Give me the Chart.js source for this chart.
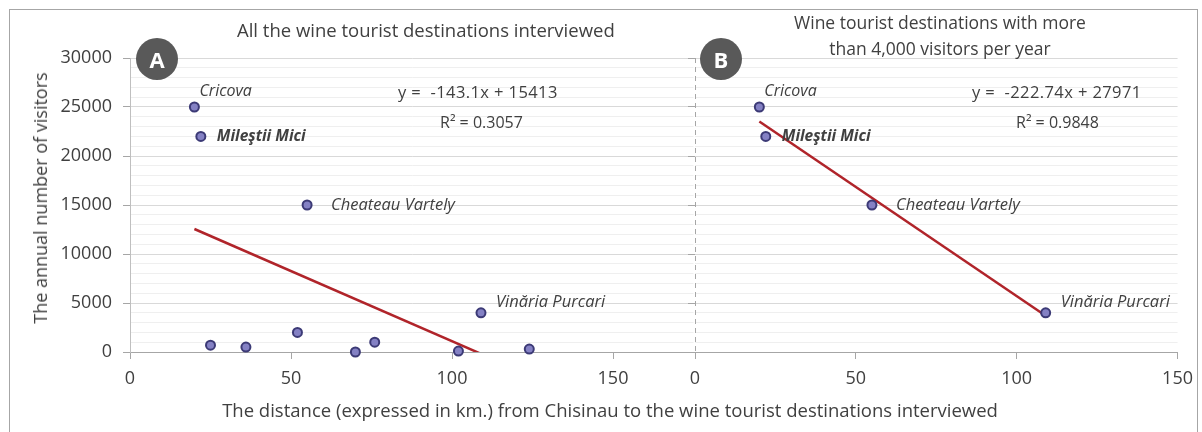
<!DOCTYPE html>
<html><head><meta charset="utf-8">
<script src="https://cdn.jsdelivr.net/npm/chart.js@4/dist/chart.umd.min.js"></script>
<style>
html,body{margin:0;padding:0;background:#fff;}
#wrap{position:relative;width:1202px;height:432px;overflow:hidden;font-family:"Open Sans",sans-serif;color:#404040;}
#frame{position:absolute;left:9px;top:9px;width:1189px;height:440px;border:1px solid #a6a6a6;box-sizing:border-box;}
canvas{position:absolute;top:0;}
#cA{left:0;}
#cB{left:600px;}
.t{position:absolute;white-space:pre;line-height:1;}
.eq{font-size:16.5px;letter-spacing:0.4px;}
.badge{position:absolute;width:42px;height:42px;border-radius:50%;background:#595959;color:#fff;font-weight:bold;font-size:22px;text-align:center;line-height:42px;}
</style></head>
<body>
<div id="wrap">
  <div id="frame"></div>
  <canvas id="cA" width="700" height="432"></canvas>
  <canvas id="cB" width="602" height="432"></canvas>
  <div class="badge" style="left:136px;top:38px;">A</div>
  <div class="badge" style="left:700px;top:38px;">B</div>
  <div class="t" id="titleA" style="left:237px;top:21px;font-size:18.5px;">All the wine tourist destinations interviewed</div>
  <div class="t" id="titleB" style="left:790px;top:9px;width:300px;text-align:center;font-size:17.5px;line-height:26px;white-space:nowrap;">Wine tourist destinations with more<br>than 4,000 visitors per year</div>
  <div class="t eq" id="eqA" style="left:398px;top:84px;"></div>
  <div class="t" id="r2A" style="left:440px;top:114px;font-size:16px;"></div>
  <div class="t eq" id="eqB" style="left:972px;top:84px;"></div>
  <div class="t" id="r2B" style="left:1016px;top:114px;font-size:16px;"></div>
  <div class="t" style="left:40px;top:198px;font-size:18px;transform:translate(-50%,-50%) rotate(-90deg);">The annual number of visitors</div>
  <div class="t" style="left:610px;top:410px;font-size:18.5px;transform:translate(-50%,-50%);">The distance (expressed in km.) from Chisinau to the wine tourist destinations interviewed</div>
</div>
<script>
// ---- data ----
const distanceAll = [20, 22, 55, 109, 25, 36, 52, 70, 76, 102, 124];
const visitorsAll = [25000, 22000, 15000, 4000, 700, 500, 2000, 0, 1000, 100, 300];
const namesAll = ['Cricova', 'Mileştii Mici', 'Cheateau Vartely', 'Vinăria Purcari', '', '', '', '', '', '', ''];
const distanceBig = [20, 22, 55, 109];
const visitorsBig = [25000, 22000, 15000, 4000];
const namesBig = ['Cricova', 'Mileştii Mici', 'Cheateau Vartely', 'Vinăria Purcari'];
const trendA = [-143.1, 15413, 0.3057];   // slope, intercept, R²
const trendB = [-222.74, 27971, 0.9848];
const xTickValues = [0, 50, 100, 150];
const yTickValues = [0,1000,2000,3000,4000,5000,6000,7000,8000,9000,10000,11000,12000,13000,14000,15000,16000,17000,18000,19000,20000,21000,22000,23000,24000,25000,26000,27000,28000,29000,30000];

// ---- styles ----
const FONT = '"Open Sans", sans-serif';
const TXT = '#404040';
const labelStyle = {
  'Cricova': {dx: 5, dy: -16, font: 'italic 16px ' + FONT},
  'Mileştii Mici': {dx: 16, dy: 0, font: 'italic bold 15.5px ' + FONT},
  'Cheateau Vartely': {dx: 24, dy: 0, font: 'italic 16.5px ' + FONT},
  'Vinăria Purcari': {dx: 15, dy: -11, font: 'italic 16.5px ' + FONT}
};

document.getElementById('eqA').textContent = 'y =  ' + trendA[0] + 'x + ' + trendA[1];
document.getElementById('r2A').textContent = 'R² = ' + trendA[2];
document.getElementById('eqB').textContent = 'y =  ' + trendB[0] + 'x + ' + trendB[1];
document.getElementById('r2B').textContent = 'R² = ' + trendB[2];

const labelPlugin = {
  id: 'ptLabels',
  afterDatasetsDraw(chart) {
    const ctx = chart.ctx;
    chart.data.datasets.forEach((ds, di) => {
      if (!ds.names) return;
      const meta = chart.getDatasetMeta(di);
      meta.data.forEach((pt, i) => {
        const n = ds.names[i];
        if (!n) return;
        const st = labelStyle[n];
        ctx.save();
        ctx.font = st.font;
        ctx.fillStyle = TXT;
        ctx.textBaseline = 'middle';
        ctx.textAlign = 'left';
        ctx.fillText(n, pt.x + st.dx, pt.y + st.dy);
        ctx.restore();
      });
    });
  }
};

// dashed vertical axis line for panel B
const dashedAxis = {
  id: 'dashedAxis',
  beforeDatasetsDraw(chart, args, opts) {
    if (!opts.on) return;
    const a = chart.chartArea, ctx = chart.ctx;
    ctx.save();
    ctx.strokeStyle = '#a6a6a6';
    ctx.lineWidth = 1;
    ctx.setLineDash([5, 4]);
    ctx.beginPath();
    ctx.moveTo(Math.round(a.left) + 0.5, a.top);
    ctx.lineTo(Math.round(a.left) + 0.5, a.bottom);
    ctx.stroke();
    ctx.restore();
  }
};

function trendLine(xs, tr) {
  const lo = Math.min(...xs), hi = Math.max(...xs);
  return [{x: lo, y: tr[0] * lo + tr[1]}, {x: hi, y: tr[0] * hi + tr[1]}];
}
function pts(xs, ys) { return xs.map((x, i) => ({x: x, y: ys[i]})); }

const pointDs = {
  pointRadius: 4.5, pointHoverRadius: 4.5,
  pointBackgroundColor: '#8481c4', pointBorderColor: '#3c3a76', pointBorderWidth: 2,
  showLine: false, clip: false, order: 0
};
const lineDs = {type: 'line', borderColor: '#b0242a', borderWidth: 2.5, pointRadius: 0, fill: false, order: 1};

function yScale(width, showLabels, borderShow) {
  return {
    type: 'linear', min: 0, max: 30000,
    afterBuildTicks: s => { s.ticks = yTickValues.map(v => ({value: v})); },
    afterFit: s => { s.width = width; },
    grid: {
      color: c => (c.tick && c.tick.value % 5000 === 0) ? '#d9d9d9' : '#efefef',
      tickColor: c => (c.tick && c.tick.value % 5000 === 0) ? '#a6a6a6' : 'rgba(0,0,0,0)',
      tickLength: 7, lineWidth: 1
    },
    border: {display: borderShow, color: '#bfbfbf'},
    ticks: {
      autoSkip: false, padding: 11, color: showLabels ? TXT : 'rgba(0,0,0,0)',
      font: {size: 18, family: FONT},
      callback: v => (showLabels && v % 5000 === 0) ? String(v) : ''
    }
  };
}
function xScale(max) {
  return {
    type: 'linear', min: 0, max: max,
    afterBuildTicks: s => { s.ticks = xTickValues.map(v => ({value: v})); },
    afterFit: s => { s.height = 80; },
    grid: {drawOnChartArea: false, tickLength: 7, color: '#a6a6a6'},
    border: {display: true, color: '#a6a6a6'},
    ticks: {autoSkip: false, maxRotation: 0, padding: 9, color: TXT, font: {size: 18, family: FONT}}
  };
}

new Chart(document.getElementById('cA'), {
  type: 'scatter',
  data: {datasets: [
    Object.assign({data: trendLine(distanceAll, trendA)}, lineDs),
    Object.assign({data: pts(distanceAll, visitorsAll), names: namesAll}, pointDs)
  ]},
  options: {
    responsive: false, animation: false, events: [],
    layout: {padding: {top: 58, right: 4, bottom: 0, left: 0}},
    plugins: {legend: {display: false}, tooltip: {enabled: false}, dashedAxis: {on: false}},
    scales: {x: xScale(175), y: yScale(130, true, true)}
  },
  plugins: [labelPlugin, dashedAxis]
});

new Chart(document.getElementById('cB'), {
  type: 'scatter',
  data: {datasets: [
    Object.assign({data: trendLine(distanceBig, trendB)}, lineDs),
    Object.assign({data: pts(distanceBig, visitorsBig), names: namesBig}, pointDs)
  ]},
  options: {
    responsive: false, animation: false, events: [],
    layout: {padding: {top: 58, right: 19, bottom: 0, left: 0}},
    plugins: {legend: {display: false}, tooltip: {enabled: false}, dashedAxis: {on: true}},
    scales: {x: xScale(150), y: yScale(95, false, false)}
  },
  plugins: [labelPlugin, dashedAxis]
});
</script>
</body></html>
